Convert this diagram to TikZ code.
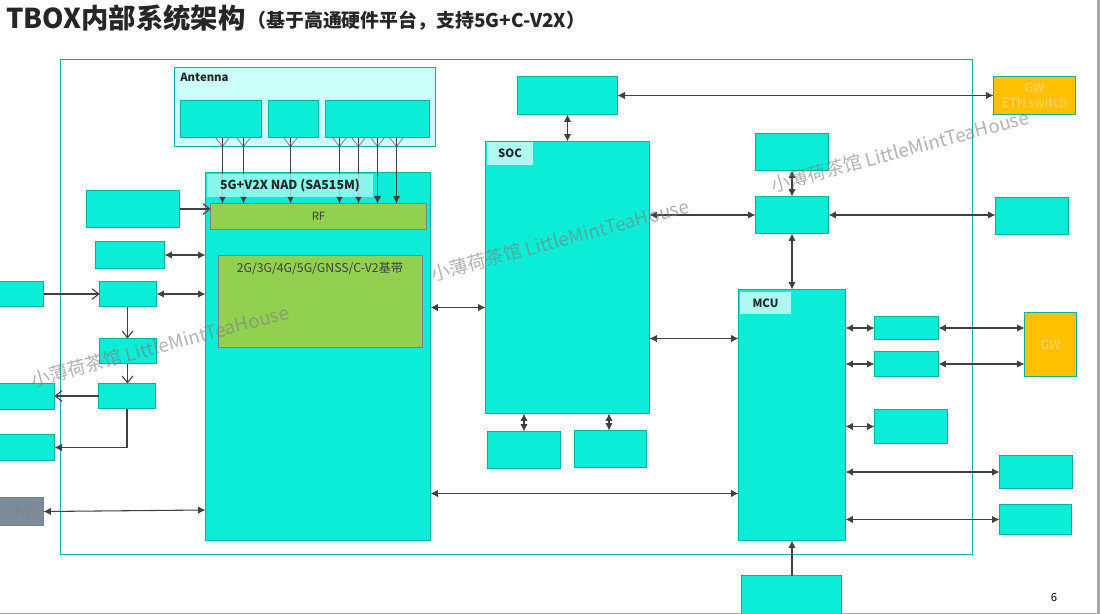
\documentclass[tikz,border=0pt]{standalone}
\usepackage{fontspec}
\setmainfont{Noto Sans CJK SC}
\usetikzlibrary{arrows.meta}
\definecolor{tealline}{HTML}{00B0A0}
\definecolor{cyanfill}{HTML}{0BEDD6}
\definecolor{antfill}{HTML}{CCFFFA}
\definecolor{labelfill}{HTML}{ABF9F0}
\definecolor{greenfill}{HTML}{92D050}
\definecolor{gwfill}{HTML}{FFC000}
\definecolor{gwtext}{HTML}{FFD860}
\definecolor{linecol}{HTML}{404040}
\definecolor{grayfill}{HTML}{7C8B99}
\definecolor{titlecol}{HTML}{262626}
\tikzset{
  cbox/.style={draw=tealline,fill=cyanfill,line width=.8pt,inner sep=0pt,outer sep=0pt},
  gwbox/.style={cbox,fill=gwfill,text=gwtext,font=\fontsize{9.5}{11}\selectfont,align=center},
  antbox/.style={cbox,fill=antfill},
  greenbox/.style={cbox,draw=gray,fill=greenfill,text=linecol},
  tagbox/.style={fill=labelfill,inner sep=0pt,outer sep=0pt,text=titlecol,font=\fontsize{8.5}{10}\selectfont\bfseries},
  framebox/.style={draw=tealline,line width=.8pt,inner sep=0pt,outer sep=0pt},
  ivibox/.style={cbox,draw=gray,fill=grayfill,text=gray,font=\fontsize{9}{10}\selectfont},
  conn/.style={draw=linecol,line width=.8pt},
  both/.style={conn,{Latex[length=5.5pt,width=5.5pt]}-{Latex[length=5.5pt,width=5.5pt]}},
  fillto/.style={conn,-{Latex[length=5.5pt,width=5.5pt]}},
  opento/.style={conn,-{Straight Barb[length=5pt,width=8pt]}},
  mark antenna/.style={draw=gray,line width=.6pt},
  wmark/.style={text=gray,opacity=.6,rotate=15,font=\fontsize{14}{16}\selectfont,inner sep=0pt},
}
\newcommand{\pxbox}[6][cbox]{%
  \node[#1,minimum width={(#5-#3)*0.75pt},minimum height={(#6-#4)*0.75pt}] (#2) at ({(#3+#5)/2},{(#4+#6)/2}) {};}
\newcommand{\pxtext}[7][cbox]{%
  \node[#1,minimum width={(#5-#3)*0.75pt},minimum height={(#6-#4)*0.75pt}] (#2) at ({(#3+#5)/2},{(#4+#6)/2}) {#7};}
\begin{document}
\begin{tikzpicture}[x=0.75pt,y=-0.75pt]
\useasboundingbox (0,0) rectangle (1100,614);
\clip (0,0) rectangle (1100,614);
\fill[white] (0,0) rectangle (1100,614);
% page edges
\fill[gray!70] (1097,0) rectangle (1100,614);
\fill[gray!70] (0,612.8) rectangle (1100,614);
% title
\node[anchor=base west,inner sep=0pt,text=titlecol,font=\fontsize{20.5}{24}\selectfont\bfseries] (title) at (6,28) {TBOX内部系统架构};
\node[anchor=base west,inner sep=0pt,text=titlecol,font=\fontsize{14.2}{17}\selectfont\bfseries] (subtitle) at (247,27) {（基于高通硬件平台，支持5G+C-V2X）};
% frame
\pxbox[framebox]{frame}{60.5}{59.5}{972.5}{554.5}
% antenna group
\pxbox[antbox]{antenna}{174.5}{67.5}{435.5}{146.5}
\node[anchor=base west,inner sep=0pt,text=titlecol,font=\fontsize{8.5}{10}\selectfont\bfseries] (antlabel) at (180,81) {Antenna};
\pxbox{antA}{180.5}{100.5}{261.5}{137.5}
\pxbox{antB}{268.5}{100.5}{318.5}{137.5}
\pxbox{antC}{325.5}{100.5}{429.5}{137.5}
% NAD
\pxbox{nad}{205.5}{172.5}{430.5}{540.5}
\pxtext[greenbox,font=\fontsize{8.5}{10}\selectfont]{rf}{210.5}{203.5}{426.5}{229.5}{RF}
\pxbox[greenbox]{base}{218.5}{255.5}{422.5}{347.5}
\node[inner sep=0pt,text=linecol,font=\fontsize{9.2}{11}\selectfont] (baselabel) at (320,268) {2G/3G/4G/5G/GNSS/C-V2基带};
% left column
\pxbox{gnss}{86.5}{190.5}{179.5}{227.5}
\pxbox{la}{95.5}{241.5}{164.5}{268.5}
\pxbox{lb}{99.5}{281.5}{156.5}{306.5}
\pxbox{lc}{99.5}{338.5}{156.5}{363.5}
\pxbox{ld}{98.5}{383.5}{155.5}{408.5}
\pxbox{ea}{-5}{281.5}{43.5}{306.5}
\pxbox{eb}{-5}{383.5}{54.5}{409.5}
\pxbox{ec}{-5}{434.5}{54.5}{460.5}
\pxtext[ivibox]{ivi}{-5}{497.5}{43.5}{525.5}{\hspace{5pt}IVI}
% SOC
\pxbox{soc}{485.5}{141.5}{649.5}{413.5}
\pxtext[tagbox]{soctag}{487}{142}{533}{165}{SOC}
\pxbox{top}{517.5}{76.5}{617.5}{114.5}
\pxbox{sa}{487.5}{431.5}{560.5}{468.5}
\pxbox{sb}{574.5}{430.5}{646.5}{467.5}
% right
\pxtext[gwbox]{eth}{993.5}{76.5}{1075.5}{114.5}{GW\\ETH switch}
\pxbox{ra}{755.5}{133.5}{828.5}{170.5}
\pxbox{rb}{755.5}{196.5}{828.5}{233.5}
\pxbox{rc}{995.5}{197.5}{1068.5}{234.5}
% MCU
\pxbox{mcu}{738.5}{289.5}{845.5}{540.5}
\pxtext[tagbox]{mcutag}{740}{292}{791}{314}{MCU}
\pxbox{ma}{874.5}{316.5}{938.5}{339.5}
\pxbox{mb}{874.5}{351.5}{938.5}{376.5}
\pxbox{mc}{874.5}{409.5}{947.5}{443.5}
\pxbox{md}{999.5}{455.5}{1072.5}{488.5}
\pxbox{me}{999.5}{504.5}{1071.5}{534.5}
\pxbox{bot}{741.5}{575.5}{841.5}{625}
\pxtext[gwbox]{gw}{1024.5}{312.5}{1076.5}{376.5}{GW}
% antenna symbols and feeds: five feeds run behind the NAD tag
\foreach \px/\src in {222.5/antA,243.5/antA,290.5/antB,339.5/antC,358.5/antC}{
  \draw[mark antenna] (\px-7,137.5) -- (\px,146.5) -- (\px+7,137.5);
  \draw[fillto] (\src.south -| \px,0) -- (rf.north -| \px,0);
}
\node[fill=labelfill,fill opacity=.8,text=titlecol,text opacity=1,inner sep=0pt,outer sep=0pt,font=\fontsize{9.3}{11}\selectfont\bfseries,minimum width={166*0.75pt},minimum height={23*0.75pt}] (nadtag) at (290,185.5) {5G+V2X NAD (SA515M)};
\foreach \px/\src in {377.5/antC,396.5/antC}{
  \draw[mark antenna] (\px-7,137.5) -- (\px,146.5) -- (\px+7,137.5);
  \draw[fillto] (\src.south -| \px,0) -- (rf.north -| \px,0);
}
% connectors
\draw[opento] (gnss.east) -- (rf.west |- gnss.east);
\draw[both] (la.east) -- (nad.west |- la.east);
\draw[both] (lb.east) -- (nad.west |- lb.east);
\draw[opento] (ea.east) -- (lb.west |- ea.east);
\draw[opento] (lb.south -| 127.5,0) -- (lc.north -| 127.5,0);
\draw[opento] (lc.south -| 127.5,0) -- (ld.north -| 127.5,0);
\draw[opento] (ld.west) -- (eb.east |- ld.west);
\draw[fillto] (ld.south -| 127,0) |- (ec.east);
\draw[both] (ivi.east) -- (nad.west |- 0,510);
\draw[both] (nad.east |- 0,307.5) -- (soc.west |- 0,307.5);
\draw[both] (soc.east |- 0,338.5) -- (mcu.west |- 0,338.5);
\draw[both] (nad.east |- 0,493.5) -- (mcu.west |- 0,493.5);
\draw[both] (top.south) -- (soc.north -| top.south);
\draw[both] (top.east) -- (eth.west |- top.east);
\draw[both] (soc.east |- rb.west) -- (rb.west);
\draw[both] (ra.south) -- (rb.north);
\draw[both] (rb.east) -- (rc.west |- rb.east);
\draw[both] (rb.south) -- (mcu.north -| rb.south);
\draw[both] (soc.south -| sa.north) -- (sa.north);
\draw[both] (soc.south -| 609,0) -- (sb.north -| 609,0);
\draw[both] (mcu.east |- ma.east) -- (ma.west);
\draw[both] (mcu.east |- mb.east) -- (mb.west);
\draw[both] (ma.east) -- (gw.west |- ma.east);
\draw[both] (mb.east) -- (gw.west |- mb.east);
\draw[both] (mcu.east |- mc.west) -- (mc.west);
\draw[both] (mcu.east |- md.west) -- (md.west);
\draw[both] (mcu.east |- me.west) -- (me.west);
\draw[fillto] (bot.north -| rb.south) -- (mcu.south -| rb.south);
% watermarks
\node[wmark] (wa) at (160,346) {小薄荷茶馆 LittleMintTeaHouse};
\node[wmark] (wb) at (560,240) {小薄荷茶馆 LittleMintTeaHouse};
\node[wmark] (wc) at (900,151) {小薄荷茶馆 LittleMintTeaHouse};
% page number
\node[inner sep=0pt,text=black!75!blue,font=\fontsize{8.5}{10}\selectfont] (pagenum) at (1054,597) {6};
\end{tikzpicture}
\end{document}
